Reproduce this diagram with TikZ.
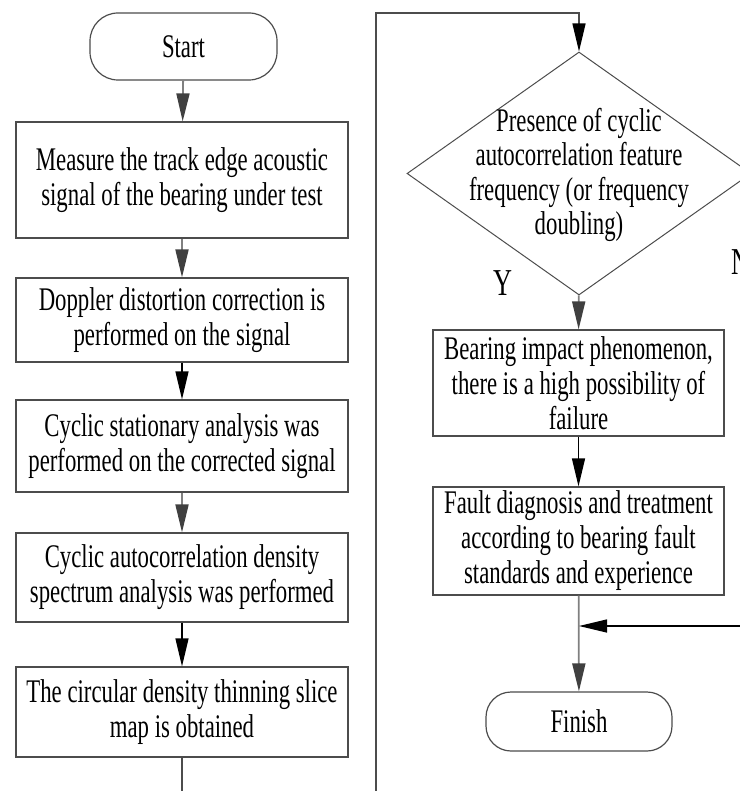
\documentclass[tikz,border=0pt]{standalone}
\usepackage{fontspec}
\setmainfont{Liberation Serif}[FakeStretch=0.69]
\usetikzlibrary{shapes,arrows,arrows.meta}
\usetikzlibrary{positioning}

\begin{document}
\begin{tikzpicture}[x=1pt, y=-1pt,
	box_node/.style={rectangle, draw=black!70, line width=1.2pt, minimum width=332pt, inner sep=0pt, align=center, font=\fontsize{33}{35}\selectfont},
	term_node/.style={rectangle, rounded corners=28pt, draw=black!70, line width=1.2pt, inner sep=0pt, font=\fontsize{33}{35}\selectfont},
	dec_node/.style={diamond, draw=black!70, line width=1pt, inner sep=0pt, minimum width=344pt, minimum height=243pt},
	grey_arrow/.style={draw=black!50, line width=1.8pt, -{Triangle[length=28pt,width=13pt,color=black!75]}},
	black_arrow/.style={draw=black, line width=1.3pt, -{Triangle[length=28pt,width=13pt,color=black]}}]
	\useasboundingbox (0,0) rectangle (739,791);
	
	% left column
	\node[term_node, minimum width=187pt, minimum height=67pt] (1) at (183.5,46.5) {Start};
	\node[box_node, minimum height=116pt] (2) at (182,180) {Measure the track edge acoustic\\signal of the bearing under test};
	\node[box_node, minimum height=84pt] (3) at (182,320) {Doppler distortion correction is\\performed on the signal};
	\node[box_node, minimum height=92pt] (4) at (182,446) {Cyclic stationary analysis was\\performed on the corrected signal};
	\node[box_node, minimum height=89pt] (5) at (182,577.5) {Cyclic autocorrelation density\\spectrum analysis was performed};
	\node[box_node, minimum height=90pt] (6) at (182,712) {The circular density thinning slice\\map is obtained};
	
	% right column
	\node[dec_node] (7) at (579,173.5) {};
	\node[align=center, inner sep=0pt, font=\fontsize{33}{34.5}\selectfont] (7t) at (579,175) {Presence of cyclic\\autocorrelation feature\\frequency (or frequency\\doubling)};
	\node[box_node, minimum width=291pt, minimum height=106pt] (8) at (578.5,383) {Bearing impact phenomenon,\\there is a high possibility of\\failure};
	\node[box_node, minimum width=291pt, minimum height=108pt] (9) at (578.5,541) {Fault diagnosis and treatment\\according to bearing fault\\standards and experience};
	\node[term_node, minimum width=186pt, minimum height=59pt, rounded corners=25pt] (10) at (579,721.5) {Finish};
	\coordinate (join) at (579,626);
	
	\node[font=\fontsize{38}{38}\selectfont, inner sep=0pt] (y) at (503,283) {Y};
	\node[font=\fontsize{38}{38}\selectfont, inner sep=0pt, anchor=west] (n) at (731,262) {N};
	
	\path
	(1) edge[grey_arrow] (2)
	(2) edge[grey_arrow] (3)
	(3) edge[black_arrow] (4)
	(4) edge[grey_arrow] (5)
	(5) edge[black_arrow] (6)
	(7) edge[grey_arrow] (8)
	(8) edge[black_arrow] (9)
	(9) edge[grey_arrow] (10);
	
	\draw[black_arrow, draw=black!70] (6.south) -- ++(0,50) -| (376,13) -| (7.north);
	\draw[black_arrow] (7.east) -- ++(20,0) |- (join);
\end{tikzpicture}
\end{document}
